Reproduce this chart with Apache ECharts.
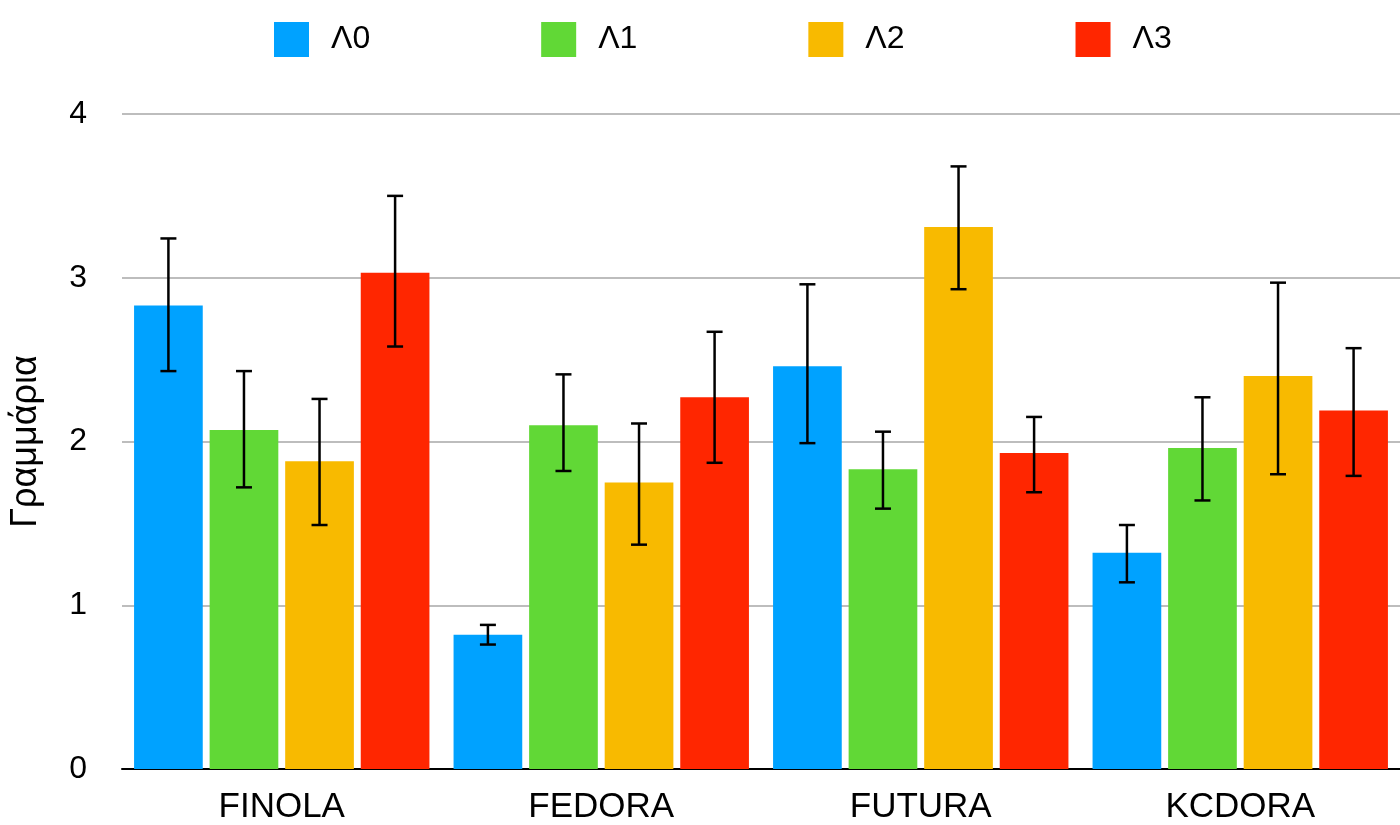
<!DOCTYPE html>
<html>
<head>
<meta charset="utf-8">
<script src="https://cdn.jsdelivr.net/npm/echarts@6/dist/echarts.min.js"></script>
<style>
  html, body { margin: 0; padding: 0; background: #fff; }
  #chart { width: 1400px; height: 825px; }
</style>
</head>
<body>
<div id="chart"></div>
<script>
const categories = ["FINOLA", "FEDORA", "FUTURA", "KCDORA"]
const seriesNames = ["Λ0", "Λ1", "Λ2", "Λ3"]
const colors = ["#00A2FF", "#61D836", "#F8BA00", "#FF2600"]

// bar heights, one array per series (in category order)
const values = [
  [2.83, 0.82, 2.46, 1.32],
  [2.07, 2.10, 1.83, 1.96],
  [1.88, 1.75, 3.31, 2.40],
  [3.03, 2.27, 1.93, 2.19],
]
// error bar ends
const errLow = [
  [2.43, 0.76, 1.99, 1.14],
  [1.72, 1.82, 1.59, 1.64],
  [1.49, 1.37, 2.93, 1.80],
  [2.58, 1.87, 1.69, 1.79],
]
const errHigh = [
  [3.24, 0.88, 2.96, 1.49],
  [2.43, 2.41, 2.06, 2.27],
  [2.26, 2.11, 3.68, 2.97],
  [3.50, 2.67, 2.15, 2.57],
]

const yTicks = [0, 1, 2, 3, 4]

const chart = echarts.init(document.getElementById("chart"))
const font = "Liberation Sans, Arial, Helvetica, sans-serif"
const barWidthPct = 0.215
const barGapPct = 0.1

const barSeries = seriesNames.map((name, i) => ({
  name: name,
  type: "bar",
  data: values[i],
  barWidth: (barWidthPct * 100) + "%",
  barGap: (barGapPct * 100) + "%",
  itemStyle: { color: colors[i] },
  z: 2,
}))

// error bars drawn on top of the bars, shifted to each bar's centre
const errorSeries = seriesNames.map((name, i) => ({
  name: name,
  type: "custom",
  data: categories.map((c, j) => [j, errLow[i][j], errHigh[i][j]]),
  z: 5,
  silent: true,
  renderItem: (params, api) => {
    const idx = api.value(0)
    const band = api.size([1, 0])[0]
    const w = band * barWidthPct
    const gap = w * barGapPct
    const total = seriesNames.length * w + (seriesNames.length - 1) * gap
    const offset = -total / 2 + w / 2 + i * (w + gap)
    const lo = api.coord([idx, api.value(1)])
    const hi = api.coord([idx, api.value(2)])
    const x = lo[0] + offset
    const cap = 8
    const style = { stroke: "#000", lineWidth: 2.5 }
    return {
      type: "group",
      children: [
        { type: "line", shape: { x1: x, y1: hi[1], x2: x, y2: lo[1] }, style: style },
        { type: "line", shape: { x1: x - cap, y1: hi[1], x2: x + cap, y2: hi[1] }, style: style },
        { type: "line", shape: { x1: x - cap, y1: lo[1], x2: x + cap, y2: lo[1] }, style: style },
      ],
    }
  },
}))

const option = {
  backgroundColor: "#fff",
  animation: false,
  textStyle: { fontFamily: font },
  legend: {
    data: seriesNames.map((n) => ({ name: n, icon: "rect" })),
    left: 269,
    top: 17,
    itemWidth: 35,
    itemHeight: 35,
    itemGap: 171,
    textStyle: { fontSize: 32, color: "#000", fontFamily: font, padding: [0, 0, 0, 17] },
  },
  grid: {
    left: 122,
    right: 0,
    top: 114,
    bottom: 55,
  },
  xAxis: {
    type: "category",
    data: categories,
    axisLine: { lineStyle: { color: "#000", width: 2 } },
    axisTick: { show: false },
    axisLabel: { fontSize: 35, color: "#000", fontFamily: font, margin: 21 },
  },
  yAxis: {
    type: "value",
    min: yTicks[0],
    max: yTicks[yTicks.length - 1],
    interval: 1,
    name: "Γραμμάρια",
    nameLocation: "middle",
    nameGap: 78,
    nameRotate: 90,
    nameTextStyle: { fontSize: 36, color: "#000", fontFamily: font },
    axisLine: { show: false },
    axisTick: { show: false },
    axisLabel: { fontSize: 32, color: "#000", fontFamily: font, margin: 35 },
    splitLine: { lineStyle: { color: "#bdbdbd", width: 2 } },
  },
  series: [...barSeries, ...errorSeries],
}

chart.setOption(option)
</script>
</body>
</html>
